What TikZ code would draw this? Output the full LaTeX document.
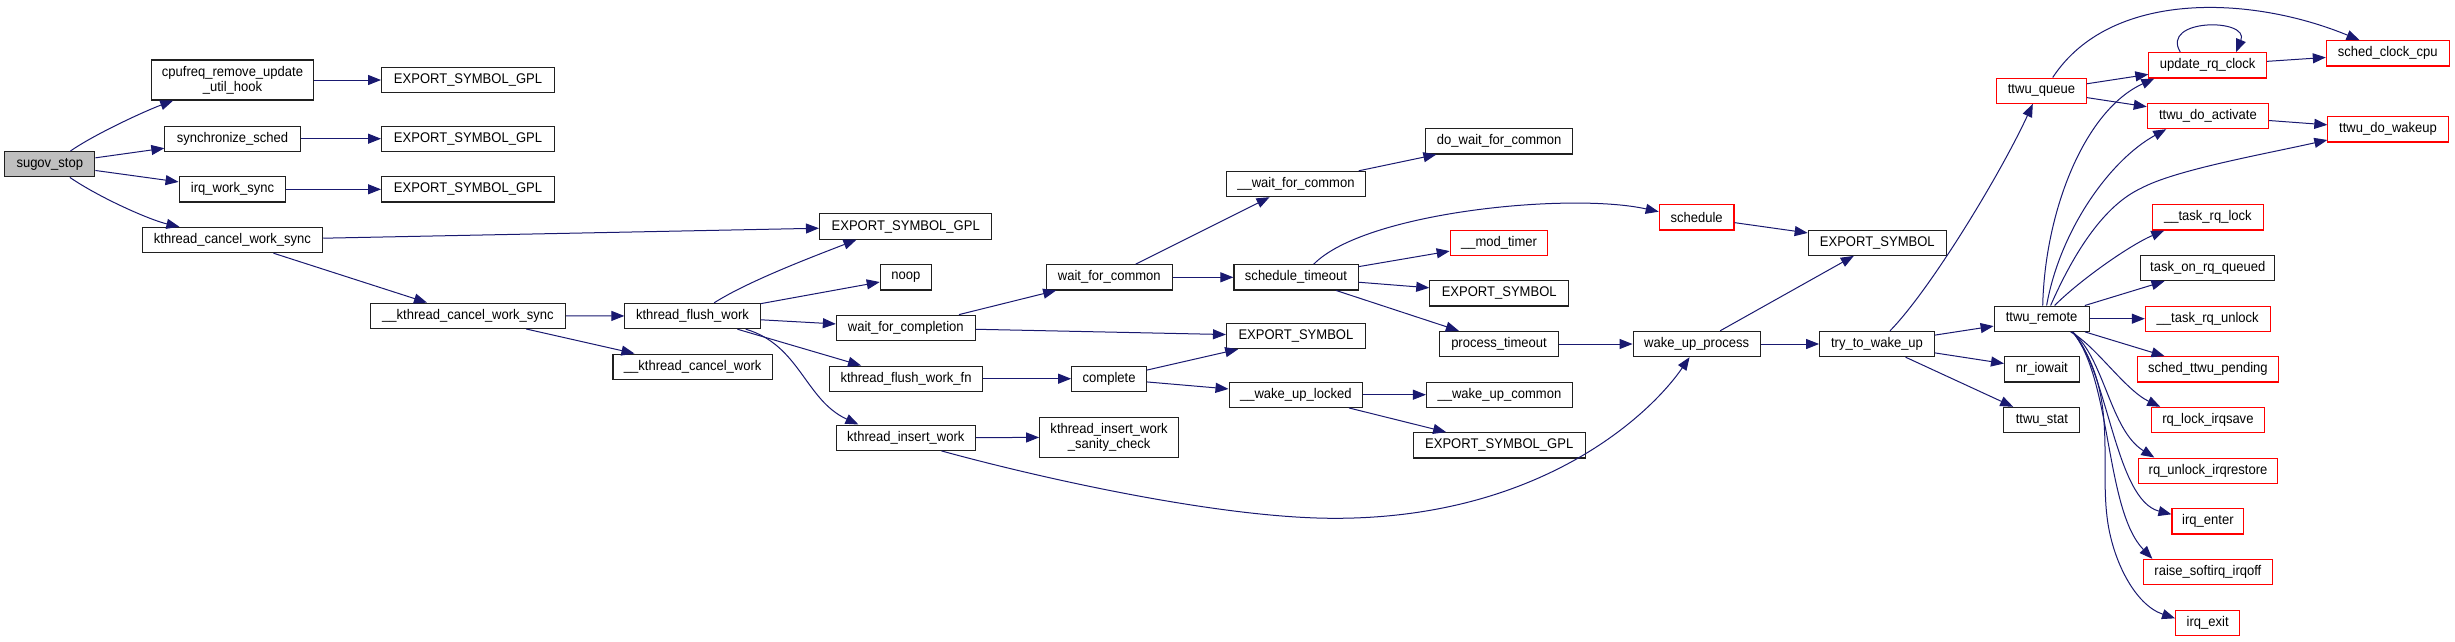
\documentclass[tikz,border=0pt]{standalone}
\usepackage{fontspec}
\setmainfont{Liberation Sans}[FakeStretch=0.93]
\usetikzlibrary{calc,arrows.meta}
\definecolor{navy}{HTML}{191970}
\definecolor{gfill}{HTML}{BFBFBF}
\definecolor{bord}{HTML}{202020}
\begin{document}
\begin{tikzpicture}[x=1pt,y=-1pt,
  box/.style={draw=bord, fill=white, line width=1.1pt, inner sep=0pt, minimum height=25.3pt, align=center, font=\fontsize{14}{15}\selectfont},
  redbox/.style={box, draw=red},
  tallbox/.style={box, minimum height=40pt},
  edge/.style={draw=navy, line width=1pt, -{Triangle[length=13pt,width=10pt]}, fill=none}]
\fill[white] (0,0) rectangle (2455,641);
\useasboundingbox (0,0) rectangle (2455,641);
% column 0-2
\node[box, fill=gfill, minimum width=90.2pt] (sugov) at (49.8,164.2) {sugov\_stop};
\node[tallbox, minimum width=161.4pt] (cpufreq) at (232.5,80) {cpufreq\_remove\_update\\\_util\_hook};
\node[box, minimum width=172.8pt] (esgA) at (468,80) {EXPORT\_SYMBOL\_GPL};
\node[box, minimum width=135.2pt] (sync) at (232.5,138.7) {synchronize\_sched};
\node[box, minimum width=172.8pt] (esgB) at (468,138.7) {EXPORT\_SYMBOL\_GPL};
\node[box, minimum width=106.8pt] (irqws) at (232.5,189.3) {irq\_work\_sync};
\node[box, minimum width=172.8pt] (esgC) at (468,189.3) {EXPORT\_SYMBOL\_GPL};
\node[box, minimum width=180.4pt] (kcws) at (232.5,240) {kthread\_cancel\_work\_sync};
\node[box, minimum width=194.9pt] (ukcws) at (468,315.8) {\_\_kthread\_cancel\_work\_sync};
% column 3-4
\node[box, minimum width=135.2pt] (kfw) at (692.5,316) {kthread\_flush\_work};
\node[box, minimum width=159.4pt] (ukcw) at (692.7,366.7) {\_\_kthread\_cancel\_work};
\node[box, minimum width=172.4pt] (esgD) at (905.7,226.5) {EXPORT\_SYMBOL\_GPL};
\node[box, minimum width=51pt] (noop) at (905.8,277.3) {noop};
\node[box, minimum width=138.8pt] (wfc) at (905.8,327.8) {wait\_for\_completion};
\node[box, minimum width=153.4pt] (kfwfn) at (906,378.7) {kthread\_flush\_work\_fn};
\node[box, minimum width=138.8pt] (kiw) at (905.8,437.7) {kthread\_insert\_work};
% column 5
\node[box, minimum width=125.8pt] (wfcm) at (1109.3,277.3) {wait\_for\_common};
\node[box, minimum width=74.8pt] (compl) at (1109.1,378.7) {complete};
\node[tallbox, minimum width=138.8pt] (kiwsc) at (1109.1,437.3) {kthread\_insert\_work\\\_sanity\_check};
% column 6
\node[box, minimum width=138.8pt] (uwfc) at (1295.9,184) {\_\_wait\_for\_common};
\node[box, minimum width=124.1pt] (stmo) at (1296,277.3) {schedule\_timeout};
\node[box, minimum width=138.8pt] (esA) at (1295.9,336) {EXPORT\_SYMBOL};
\node[box, minimum width=133.5pt] (wul) at (1295.8,394.7) {\_\_wake\_up\_locked};
% column 7
\node[box, minimum width=147pt] (dwfc) at (1499.2,141.3) {do\_wait\_for\_common};
\node[redbox, minimum width=97.6pt] (modt) at (1499,242.7) {\_\_mod\_timer};
\node[box, minimum width=138.8pt] (esB) at (1499.2,293.3) {EXPORT\_SYMBOL};
\node[box, minimum width=118.8pt] (ptmo) at (1499,344) {process\_timeout};
\node[box, minimum width=145.8pt] (wuc) at (1499.4,394.7) {\_\_wake\_up\_common};
\node[box, minimum width=172.3pt] (esgE) at (1499.2,445.3) {EXPORT\_SYMBOL\_GPL};
% column 8-9
\node[redbox, minimum width=74.7pt] (sched) at (1696.6,217.3) {schedule};
\node[box, minimum width=127pt] (wup) at (1696.6,344) {wake\_up\_process};
\node[box, minimum width=138.2pt] (esC) at (1877.3,242.7) {EXPORT\_SYMBOL};
\node[box, minimum width=114.7pt] (ttwu) at (1877,344) {try\_to\_wake\_up};
% column 10
\node[redbox, minimum width=89.7pt] (tq) at (2041.5,90.7) {ttwu\_queue};
\node[box, minimum width=94.9pt] (tr) at (2041.6,318.7) {ttwu\_remote};
\node[box, minimum width=74.5pt] (nri) at (2041.8,369.3) {nr\_iowait};
\node[box, minimum width=76.1pt] (tstat) at (2041.8,420) {ttwu\_stat};
% column 11
\node[redbox, minimum width=117.6pt] (urc) at (2207.7,65.3) {update\_rq\_clock};
\node[redbox, minimum width=121.2pt] (tda) at (2207.9,116) {ttwu\_do\_activate};
\node[redbox, minimum width=110.8pt] (trl) at (2207.9,217.3) {\_\_task\_rq\_lock};
\node[box, minimum width=134.3pt] (torq) at (2207.7,268) {task\_on\_rq\_queued};
\node[redbox, minimum width=124.7pt] (tru) at (2207.7,318.7) {\_\_task\_rq\_unlock};
\node[redbox, minimum width=141.1pt] (stp) at (2207.9,369.3) {sched\_ttwu\_pending};
\node[redbox, minimum width=113.2pt] (rli) at (2207.9,420) {rq\_lock\_irqsave};
\node[redbox, minimum width=138.3pt] (rui) at (2208,470.7) {rq\_unlock\_irqrestore};
\node[redbox, minimum width=71.8pt] (ien) at (2207.9,521.3) {irq\_enter};
\node[redbox, minimum width=129.2pt] (rsi) at (2207.9,572) {raise\_softirq\_irqoff};
\node[redbox, minimum width=64.2pt] (iex) at (2207.7,622.7) {irq\_exit};
% column 12
\node[redbox, minimum width=122.7pt] (scc) at (2387.7,53.3) {sched\_clock\_cpu};
\node[redbox, minimum width=120.3pt] (tdw) at (2388,129.3) {ttwu\_do\_wakeup};

% ---------- edges ----------
\draw[edge] ($(sugov.north west)+(66.3,0)$) .. controls (95,134) and (145,111) .. ($(cpufreq.south west)+(22,0)$);
\draw[edge] (sugov) -- (sync);
\draw[edge] (sugov) -- (irqws);
\draw[edge] ($(sugov.south west)+(65.7,0)$) .. controls (100,198) and (150,220) .. ($(kcws.north west)+(37.7,0)$);
\draw[edge] (cpufreq) -- (esgA);
\draw[edge] (sync) -- (esgB);
\draw[edge] (irqws) -- (esgC);
\draw[edge] (kcws) -- (esgD);
\draw[edge] (kcws) -- (ukcws);
\draw[edge] (ukcws) -- (kfw);
\draw[edge] (ukcws) -- (ukcw);
\draw[edge] ($(kfw.north west)+(89.8,0)$) .. controls (750,280) and (820,254) .. ($(esgD.south west)+(37.5,0)$);
\draw[edge] (kfw) -- (noop);
\draw[edge] (kfw) -- (wfc);
\draw[edge] (kfw) -- (kfwfn);
\draw[edge] ($(kfw.south west)+(121.4,0)$) .. controls (800,345) and (805,400) .. ($(kiw.north west)+(22.6,0)$);
\draw[edge] (wfc) -- (wfcm);
\draw[edge] (wfc) -- (esA);
\draw[edge] (kfwfn) -- (compl);
\draw[edge] (compl) -- (esA);
\draw[edge] (compl) -- (wul);
\draw[edge] (kiw) -- (kiwsc);
\draw[edge] ($(kiw.south west)+(105.6,0)$) .. controls (1040,478) and (1220,518.3) .. (1334.7,518.3) .. controls (1540,518.3) and (1650,415) .. ($(wup.south west)+(57,0)$);
\draw[edge] (wfcm) -- (uwfc);
\draw[edge] (wfcm) -- (stmo);
\draw[edge] (uwfc) -- (dwfc);
\draw[edge] ($(stmo.north west)+(80.4,0)$) .. controls (1365,212) and (1570,192) .. ($(sched.west)+(0,-5.6)$);
\draw[edge] (stmo) -- (modt);
\draw[edge] (stmo) -- (esB);
\draw[edge] (stmo) -- (ptmo);
\draw[edge] (sched) -- (esC);
\draw[edge] (ptmo) -- (wup);
\draw[edge] (wul) -- (wuc);
\draw[edge] (wul) -- (esgE);
\draw[edge] (wup) -- (esC);
\draw[edge] (wup) -- (ttwu);
\draw[edge] ($(ttwu.north west)+(70.9,0)$) .. controls (1930,290) and (2000,175) .. ($(tq.south west)+(36.7,0)$);
\draw[edge] (ttwu) -- (tr);
\draw[edge] (ttwu) -- (nri);
\draw[edge] (ttwu) -- (tstat);
\draw[edge] ($(tq.north west)+(56.6,0)$) .. controls (2110,-10) and (2250,-5) .. ($(scc.north west)+(33.7,0)$);
\draw[edge] (tq) -- (urc);
\draw[edge] (tq) -- (tda);
\draw[edge] ($(urc.north west)+(31.9,0)$) .. controls (2160,18) and (2250,18) .. ($(urc.north west)+(87.7,0)$);
\draw[edge] (urc) -- (scc);
\draw[edge] (tda) -- (tdw);
\draw[edge] ($(tr.north west)+(49.1,0)$) .. controls (2045,210) and (2085,110) .. ($(urc.south west)+(6,0)$);
\draw[edge] ($(tr.north west)+(53,0)$) .. controls (2060,230) and (2110,160) .. ($(tda.south west)+(19.5,0)$);
\draw[edge] ($(tr.north west)+(57,0)$) .. controls (2075,250) and (2105,205) .. (2141,188.3) .. controls (2175,170) and (2260,155) .. ($(tdw.west)+(0,10.7)$);
\draw[edge] ($(tr.north west)+(61,0)$) .. controls (2080,280) and (2130,245) .. ($(trl.south west)+(12.3,0)$);
\draw[edge] (tr) -- (torq);
\draw[edge] (tr) -- (tru);
\draw[edge] (tr) -- (stp);
\draw[edge] ($(tr.south west)+(77,0)$) .. controls (2095,345) and (2125,390) .. ($(rli.north west)+(9.5,0)$);
\draw[edge] ($(tr.south west)+(79,0)$) .. controls (2105,360) and (2110,430) .. ($(rui.north west)+(16,0)$);
\draw[edge] ($(tr.south west)+(79,0)$) .. controls (2108,370) and (2115,500) .. ($(ien.west)+(0,-7)$);
\draw[edge] ($(tr.south west)+(79,0)$) .. controls (2112,380) and (2105,510) .. ($(rsi.north west)+(9.6,0)$);
\draw[edge] ($(tr.south west)+(79,0)$) .. controls (2118,390) and (2100,460) .. (2107,516.7) .. controls (2112,560) and (2135,605) .. ($(iex.west)+(0,-4.4)$);
\end{tikzpicture}
\end{document}
